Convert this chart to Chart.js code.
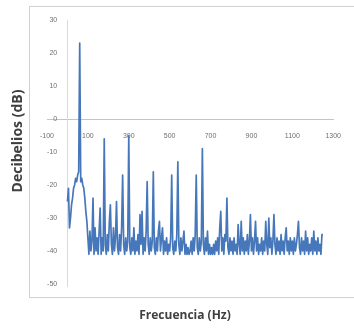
<!DOCTYPE html>
<html>
<head>
<meta charset="utf-8">
<script src="https://cdn.jsdelivr.net/npm/chart.js@4.4.0/dist/chart.umd.min.js"></script>
<style>
  html, body { margin: 0; padding: 0; background: #fff; }
  #wrap { width: 354px; height: 330px; }
</style>
</head>
<body>
<div id="wrap"><canvas id="spectrum"></canvas></div>
<script>
// espectro: un valor cada 5 Hz, desde 0 Hz
var binHz = 5
var db = [
  -25,-21,-33,-30,-26,-24,-21,-20,-18,-19,
  -17,-16, 23,-19,-18,-20,-21,-24,-28,-31,
  -36,-41,-34,-40,-37,-24,-41,-33,-40,-36,
  -41,-34,-27,-41,-36,-40, -6,-38,-41,-35,
  -40,-31,-26,-38,-41,-33,-40,-36,-25,-39,
  -41,-35,-40,-33,-17,-38,-41,-36,-40,-37,
   -5,-39,-41,-36,-40,-33,-41,-37,-40,-35,
  -41,-29,-38,-28,-41,-36,-40,-34,-19,-38,
  -41,-36,-40,-37,-16,-39,-41,-36,-40,-34,
  -31,-40,-36,-33,-41,-37,-40,-36,-41,-38,
  -40,-36,-17,-39,-41,-37,-40,-35,-13,-38,
  -41,-36,-40,-37,-34,-41,-38,-41,-39,-41,
  -40,-37,-41,-36,-40,-35,-17,-39,-41,-36,
  -40,-37, -9,-38,-41,-36,-40,-34,-41,-38,
  -41,-39,-41,-38,-41,-37,-40,-36,-41,-33,
  -28,-40,-36,-41,-35,-37,-24,-39,-41,-36,
  -40,-37,-41,-36,-40,-38,-41,-32,-38,-41,
  -31,-40,-36,-41,-37,-40,-35,-41,-37,-29,
  -40,-36,-41,-37,-31,-40,-36,-41,-38,-40,
  -36,-41,-37,-40,-31,-38,-41,-30,-39,-36,
  -41,-37,-29,-38,-41,-36,-40,-37,-41,-35,
  -40,-37,-41,-36,-33,-40,-37,-41,-36,-40,
  -37,-41,-36,-40,-38,-35,-31,-39,-41,-36,
  -40,-37,-41,-34,-40,-36,-41,-38,-40,-36,
  -41,-34,-40,-37,-41,-36,-40,-38,-41,-35,
  -35
]
var xTicks = [-100, 100, 300, 500, 700, 900, 1100, 1300]
var yTicks = [30, 20, 10, 0, -10, -20, -30, -40, -50]
var xTitle = "Frecuencia (Hz)"
var yTitle = "Decibelios (dB)"

var pts = db.map((v, i) => ({x: i * binHz, y: v}))

// marco gris, eje vertical en x = 0 y títulos de ejes
var frame = {
  id: "frame",
  beforeDraw(chart) {
    var c = chart.ctx
    c.save()
    c.fillStyle = "#fff"
    c.fillRect(0, 0, chart.width, chart.height)
    c.strokeStyle = "#d0d0d0"
    c.lineWidth = 1
    c.strokeRect(29.5, 6.5, 400, 291)
    c.restore()
  },
  beforeDatasetsDraw(chart) {
    var c = chart.ctx, a = chart.chartArea
    var x0 = Math.round(chart.scales.x.getPixelForValue(0)) + 0.5
    c.save()
    c.strokeStyle = "#d9d9d9"
    c.lineWidth = 1
    c.beginPath()
    c.moveTo(x0, a.top)
    c.lineTo(x0, a.bottom + 3)
    c.stroke()
    c.restore()
  },
  afterDraw(chart) {
    var c = chart.ctx
    c.save()
    c.fillStyle = "#404040"
    c.textAlign = "center"
    c.textBaseline = "middle"
    c.font = "bold 12px 'Open Sans'"
    c.fillText(xTitle, 185, 316)
    c.font = "bold 14px 'Open Sans'"
    c.translate(18, 141)
    c.rotate(-Math.PI / 2)
    c.fillText(yTitle, 0, 0)
    c.restore()
  }
}

var tickFont = {family: "'Liberation Sans'", size: 7}

new Chart("spectrum", {
  type: "line",
  data: {
    datasets: [{
      data: pts,
      borderColor: "#4677ba",
      borderWidth: 1.7,
      borderJoinStyle: "round",
      pointRadius: 0,
      tension: 0
    }]
  },
  options: {
    responsive: true,
    maintainAspectRatio: false,
    animation: false,
    layout: {padding: {left: 47, right: 11, top: 20, bottom: 46}},
    plugins: {legend: {display: false}, tooltip: {enabled: false}},
    scales: {
      x: {
        type: "linear",
        min: -100, max: 1300,
        position: {y: 0},
        afterBuildTicks: s => { s.ticks = xTicks.map(v => ({value: v})) },
        grid: {display: false, drawTicks: false},
        border: {color: "#c4c4c4", width: 1},
        ticks: {font: tickFont, color: "#6f6f6f", padding: 13, maxRotation: 0, autoSkip: false,
                callback: v => String(v)}
      },
      y: {
        type: "linear",
        min: -50, max: 30,
        position: {x: -50},
        afterBuildTicks: s => { s.ticks = yTicks.map(v => ({value: v})) },
        grid: {display: false, drawTicks: false},
        border: {display: false},
        ticks: {font: tickFont, color: "#6f6f6f", callback: v => String(v)}
      }
    }
  },
  plugins: [frame]
})
</script>
</body>
</html>
